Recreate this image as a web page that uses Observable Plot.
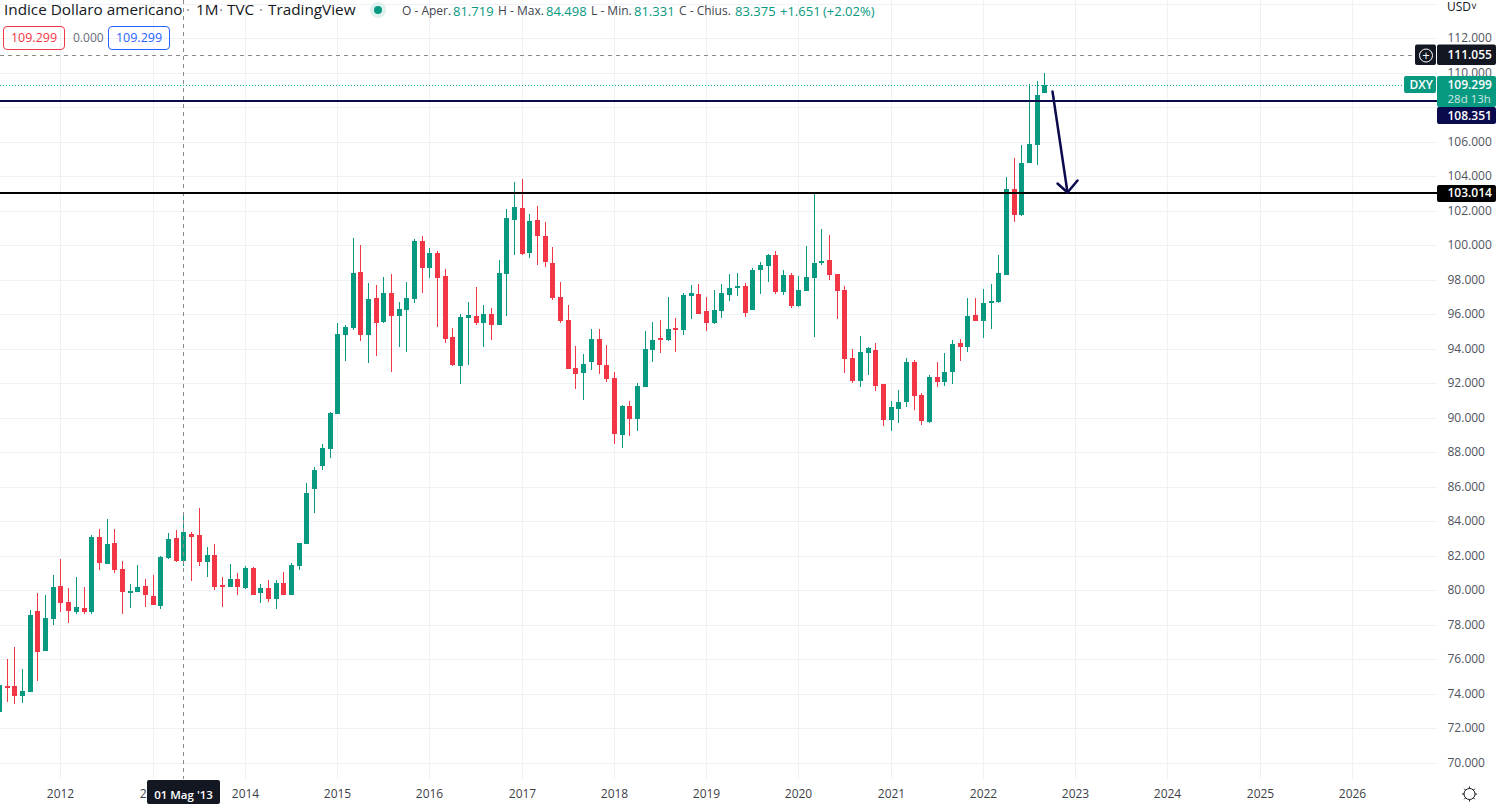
<!DOCTYPE html>
<html>
<head>
<meta charset="utf-8">
<script src="https://cdn.jsdelivr.net/npm/d3@7"></script>
<script src="https://cdn.jsdelivr.net/npm/@observablehq/plot@0.6"></script>
<style>
html,body{margin:0;padding:0;background:#fff;overflow:hidden}
#wrap{position:relative;width:1496px;height:805px;font-family:"Open Sans",sans-serif;color:#131722}
#wrap svg{display:block}
.t{position:absolute;white-space:nowrap;line-height:1}
.box{position:absolute;box-sizing:border-box;border-radius:4px;border:1px solid;height:24px;top:26px;width:62px;text-align:center;font-size:12.5px;line-height:22px}
</style>
</head>
<body>
<div id="wrap"></div>
<script>
// Monthly candles from May 2011 (index -8; Jan 2012 = 0) to Sep 2022 (index 128)
const firstIndex = -8;
const opens = [72.96,74.45,74.45,73.87,74.10,78.80,76.48,78.34,
80.25,79.32,78.74,78.97,78.74,83.09,81.52,82.74,81.23,79.84,79.90,80.25,
79.67,79.09,81.87,83.03,81.70,83.26,83.21,81.64,82.05,80.31,80.19,80.65,
80.13,81.29,79.84,80.13,79.50,80.42,79.73,81.41,82.68,85.87,87.21,88.19,
90.22,94.80,95.21,98.45,94.80,96.94,95.55,97.23,95.90,96.25,96.89,100.25,
98.68,99.55,98.22,94.68,93.00,95.79,95.90,95.50,96.02,95.38,98.34,101.47,
102.16,99.55,101.47,100.54,98.97,97.00,95.67,92.89,92.60,93.23,94.57,93.06,
92.31,89.00,90.68,89.93,91.79,93.93,94.63,94.51,95.21,95.09,97.06,97.18,
96.19,95.50,96.19,97.12,97.52,97.64,96.25,98.57,98.80,99.44,97.32,98.28,
96.48,97.35,98.10,98.97,99.15,98.34,97.41,93.47,92.13,93.76,93.93,91.96,
89.87,90.51,90.92,93.23,91.32,89.76,92.36,92.07,92.65,94.34,94.10,95.96,
95.61,96.65,96.71,98.28,103.26,101.76,104.77,105.81,108.83];
const closes = [74.51,74.34,73.87,74.16,78.57,76.42,78.39,80.19,
79.26,78.80,79.03,78.74,83.09,81.58,82.68,81.18,79.90,79.96,80.19,79.73,
79.15,81.93,82.97,81.70,83.38,83.09,81.64,82.05,80.19,80.19,80.65,80.19,
81.29,79.73,80.13,79.50,80.42,79.73,81.47,82.74,85.64,86.97,88.25,90.28,
94.86,95.26,98.39,94.80,96.89,95.50,97.23,95.90,96.31,96.94,100.25,98.68,
99.55,98.10,94.57,93.06,95.84,95.96,95.50,96.02,95.38,98.39,101.58,102.22,
99.50,101.41,100.54,99.03,96.94,95.61,92.83,92.54,93.12,94.57,93.06,92.25,
89.06,90.68,89.93,91.84,93.99,94.51,94.51,95.15,95.09,97.12,97.23,96.02,
95.50,96.25,97.23,97.52,97.64,96.08,98.57,98.86,99.44,97.32,98.28,96.48,
97.41,98.16,98.97,99.09,98.28,97.35,93.41,92.13,93.81,94.05,91.84,89.87,
90.63,90.92,93.23,91.26,89.81,92.36,92.07,92.65,94.28,94.10,95.90,95.61,
96.65,96.77,98.39,103.26,101.76,104.77,105.87,108.71,109.30];
const highs = [74.6,76.02,76.71,75.44,78.86,79.84,79.73,80.89,
81.81,80.13,80.77,80.19,83.21,83.55,84.13,83.55,81.70,80.36,81.47,80.65,
80.89,81.99,83.32,83.50,84.31,83.38,84.77,82.51,82.68,80.77,81.52,81.00,
81.41,81.35,80.36,80.60,80.60,81.06,81.58,82.74,86.22,87.15,88.48,90.34,
95.50,95.38,100.42,100.02,97.81,97.70,98.16,98.34,96.71,97.87,100.37,100.54,
99.84,99.67,98.63,95.21,96.02,96.71,97.58,96.54,96.36,99.15,102.10,103.67,
103.84,101.81,102.28,101.35,99.90,97.87,96.54,94.16,93.70,95.15,95.15,94.22,
92.65,90.74,90.97,92.02,95.03,95.55,95.67,97.00,95.79,97.23,97.70,97.76,
97.00,97.41,97.76,98.34,98.39,97.81,98.68,99.03,99.50,99.67,98.57,98.39,
98.22,99.96,103.03,100.95,100.60,98.34,97.64,93.99,94.74,94.10,94.34,91.96,
90.97,91.61,93.47,93.35,91.44,92.48,93.23,93.76,94.51,94.57,96.94,96.94,
97.47,97.76,99.44,103.96,105.06,105.81,109.35,109.52,109.99];
const lows = [72.9,73.52,73.41,73.47,74.10,74.74,76.48,77.99,
78.74,78.10,78.63,78.63,78.63,81.18,81.52,81.00,78.63,78.97,79.90,79.03,
79.15,78.92,81.81,81.64,81.41,80.54,81.41,80.77,80.02,79.03,80.19,79.73,
80.08,79.73,79.26,79.32,78.92,79.73,79.73,81.18,82.68,84.48,86.97,87.67,
90.22,93.29,95.09,94.45,93.18,93.58,95.50,92.65,94.10,93.81,96.65,97.23,
98.10,95.26,94.34,93.00,91.96,93.06,95.38,94.10,94.51,95.38,95.90,99.44,
99.44,99.26,98.86,98.74,96.83,95.50,92.83,91.67,91.03,92.77,92.54,92.07,
88.48,88.25,88.94,89.23,91.79,93.23,93.76,94.45,93.81,94.80,95.73,96.02,
95.03,95.44,95.79,96.77,97.06,95.84,96.25,97.18,97.87,97.18,97.12,96.36,
96.42,97.35,94.68,98.86,97.99,95.73,92.60,92.02,91.79,92.48,91.55,89.52,
89.23,89.70,90.63,90.45,89.58,89.70,91.79,91.84,91.96,93.29,93.81,95.61,
94.63,95.15,96.65,98.28,101.35,101.70,104.77,104.65,108.83];

const years = [2012,2013,2014,2015,2016,2017,2018,2019,2020,2021,2022,2023,2024,2025,2026];
const priceTicks = [70,72,74,76,78,80,82,84,86,88,90,92,94,96,98,100,102,104,106,110,112];
const gridPrices = [...priceTicks, 108, 114];

const lastPrice = 109.299, navyLevel = 108.351, blackLevel = 103.014, crossPrice = 111.055;
const crossMonth = 16;
const arrowShaft = [[129.04,108.96],[130.99,103.11]];
const arrowHead = [[129.61,103.59],[130.99,103.11],[132.21,103.79]];

const GREEN="#089981", RED="#f23645", NAVY="#0a0a4d", DARK="#131722", GRID="#f0f1f4";
const candles = opens.map((o,k)=>({i:firstIndex+k,o,c:closes[k],h:highs[k],l:lows[k]}));
const col = d => d.c>=d.o ? GREEN : RED;
const yearPos = y => (y-2012)*12;
const FW = 1437; // frame right edge

function tag(price, top, bottom, left, right, fill){
  return Plot.rect([price],{y1:d=>d,y2:d=>d,insetTop:top,insetBottom:bottom,insetLeft:left,insetRight:right,fill,rx:2});
}
function lab(price, text, dx, dy, fill, opts={}){
  return Plot.text([price],{y:d=>d,text:()=>text,frameAnchor:"right",dx,dy,fill,fontSize:12,fontWeight:600,textAnchor:"start",...opts});
}

const chart = Plot.plot({
  width:1496,height:805,marginLeft:0,marginRight:59,marginTop:0,marginBottom:26,
  style:{fontFamily:'"Open Sans",sans-serif',background:"#fff"},
  x:{type:"linear",domain:[-7.87,179.09],axis:null,round:true},
  y:{type:"linear",domain:[69.06,114.22],axis:null,round:true},
  marks:[
    Plot.ruleX(years,{x:yearPos,stroke:GRID,strokeWidth:1}),
    Plot.ruleY(gridPrices,{stroke:GRID,strokeWidth:1}),
    Plot.axisY({anchor:"right",ticks:priceTicks,tickSize:0,tickPadding:10,tickFormat:d=>d.toFixed(3),fontSize:12,label:null,fill:"#50535e"}),
    Plot.axisX({anchor:"bottom",ticks:years.map(yearPos),tickSize:0,tickPadding:10,tickFormat:d=>String(2012+d/12),fontSize:12,fill:"#3c3f48",label:null}),
    Plot.ruleX(candles,{x:"i",y1:"l",y2:"h",stroke:col,strokeWidth:1}),
    Plot.ruleX(candles,{x:"i",y1:d=>Math.min(d.o,d.c),y2:d=>Math.max(d.o,d.c),stroke:col,strokeWidth:5}),
    Plot.ruleX([crossMonth],{stroke:"#8a8a8a",strokeWidth:1,strokeDasharray:"4,4"}),
    Plot.ruleY([crossPrice],{stroke:"#8a8a8a",strokeWidth:1,strokeDasharray:"4,4"}),
    Plot.ruleY([lastPrice],{stroke:"#0aa88e",strokeWidth:1,strokeDasharray:"1,2"}),
    Plot.ruleY([navyLevel],{stroke:NAVY,strokeWidth:2,dy:-0.5}),
    Plot.ruleY([blackLevel],{stroke:"#000",strokeWidth:2,dy:-0.5}),
    Plot.line(arrowShaft,{x:d=>d[0],y:d=>d[1],stroke:NAVY,strokeWidth:2.5}),
    Plot.line(arrowHead,{x:d=>d[0],y:d=>d[1],stroke:NAVY,strokeWidth:2.5}),
    tag(crossPrice,-10.5,-10,FW,-59,DARK),
    tag(crossPrice,-10.5,-10,1415,1,DARK),
    Plot.dot([crossPrice],{y:d=>d,frameAnchor:"right",dx:-11.5,r:6.5,stroke:"#fff",strokeWidth:1,fill:"none"}),
    Plot.text([crossPrice],{y:d=>d,frameAnchor:"right",dx:-11.5,text:()=>"+",fill:"#fff",fontSize:13,textAnchor:"middle"}),
    tag(lastPrice,-9,-22,FW,-59,GREEN),
    tag(lastPrice,-9,-8,1404,1,GREEN),
    tag(navyLevel,6,-23,FW,-59,NAVY),
    tag(blackLevel,-8,-9,FW,-59,"#000"),
    lab(crossPrice,"111.055",10,0,"#fff"),
    lab(lastPrice,"109.299",10,0,"#fff"),
    lab(lastPrice,"28d 13h",10,14,"#cfe9e4",{fontWeight:400,fontSize:11.5}),
    lab(lastPrice,"DXY",-28,0,"#fff",{fontWeight:600}),
    lab(navyLevel,"108.351",10,15,"#fff"),
    lab(blackLevel,"103.014",10,0,"#fff"),
    Plot.rect([crossMonth],{x1:d=>d,x2:d=>d,insetLeft:-36,insetRight:-37,insetTop:780,insetBottom:-25,fill:DARK,rx:2}),
    Plot.text([crossMonth],{x:d=>d,text:()=>"01 Mag '13",frameAnchor:"bottom",dy:19,fill:"#fff",fontSize:11.5,fontWeight:600})
  ]
});

const wrap = document.getElementById("wrap");
wrap.appendChild(chart);

const header = [
  [4,2,"Indice Dollaro americano",DARK,15.3],
  [186,2,"·","#8a8a8a",15.3],
  [196,2,"1M",DARK,15.3],
  [219,2,"·","#8a8a8a",15.3],
  [227,2,"TVC",DARK,15.3],
  [259,2,"·","#8a8a8a",15.3],
  [268,2,"TradingView",DARK,15.3],
  [402,5,"O - Aper.","#40434c",12],[453,5,"81.719",GREEN,13],
  [498,5,"H - Max.","#40434c",12],[546,5,"84.498",GREEN,13],
  [591,5,"L - Min.","#40434c",12],[634,5,"81.331",GREEN,13],
  [679,5,"C - Chius.","#40434c",12],[735,5,"83.375",GREEN,13],
  [780,5,"+1.651",GREEN,13],[823,5,"(+2.02%)",GREEN,13],
  [73,32,"0.000","#6a6d78",12],
  [1447,1,"USD",DARK,12],[1471,1,"˅",DARK,10]
];
for(const [x,y,s,c,f] of header){
  const e=document.createElement("div");e.className="t";
  e.style.cssText=`left:${x}px;top:${y}px;color:${c};font-size:${f}px`;
  e.textContent=s;wrap.appendChild(e);
}
for(const [x,c] of [[3,RED],[108,"#2962ff"]]){
  const e=document.createElement("div");e.className="box";
  e.style.cssText=`left:${x}px;color:${c};border-color:${c}`;
  e.textContent=String(lastPrice);wrap.appendChild(e);
}
const ns="http://www.w3.org/2000/svg";
const icons=document.createElement("div");
icons.innerHTML=`<svg xmlns="${ns}" width="1496" height="805" style="position:absolute;left:0;top:0;pointer-events:none">
<circle cx="378" cy="10" r="8" fill="#e0f2ef"/><circle cx="378" cy="10" r="4" fill="${GREEN}"/>
<circle cx="1469.5" cy="794" r="5.5" fill="none" stroke="${DARK}" stroke-width="1"/>
<path d="M1469.5 786.5v2M1469.5 799.5v2M1462 794h2M1475 794h2M1464.2 788.7l1.4 1.4M1473.4 797.9l1.4 1.4M1464.2 799.3l1.4-1.4M1473.4 790.1l1.4-1.4" stroke="${DARK}" stroke-width="1"/></svg>`;
wrap.appendChild(icons);
</script>
</body>
</html>
